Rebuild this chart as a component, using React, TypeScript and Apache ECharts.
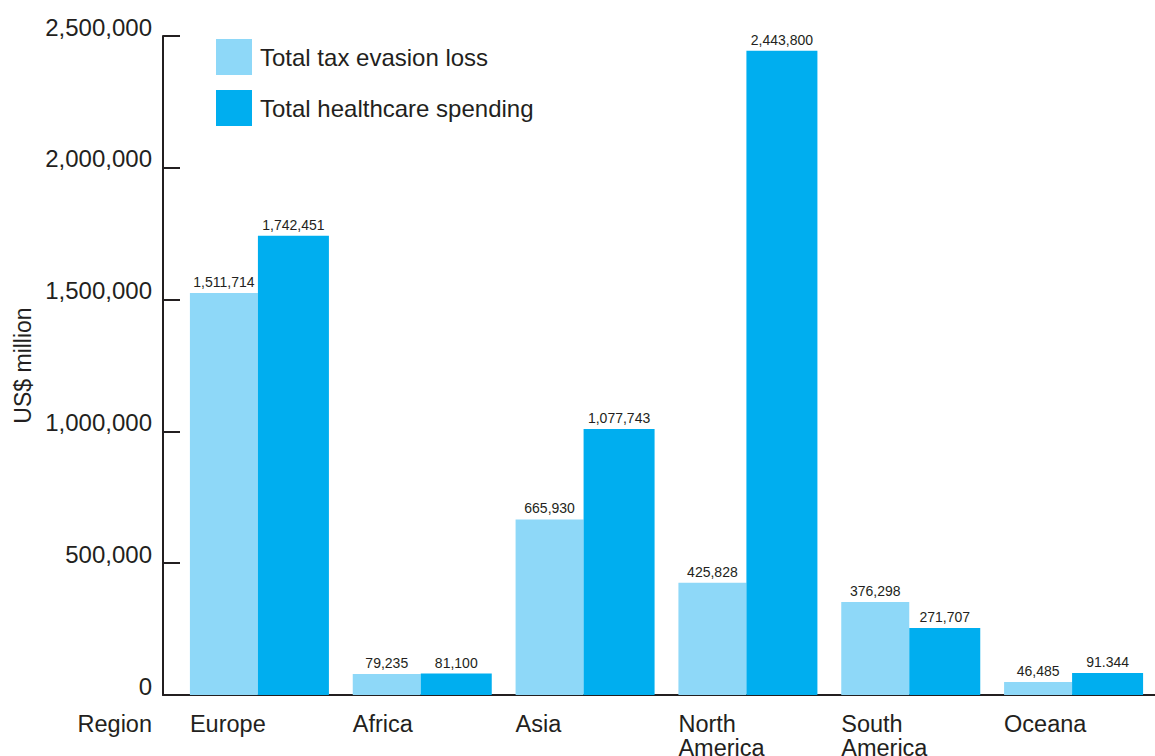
import React, { useEffect, useRef } from "react";
import * as echarts from "echarts";

const categories = ["Europe", "Africa", "Asia", "North\nAmerica", "South\nAmerica", "Oceana"];
const seriesNames = ["Total tax evasion loss", "Total healthcare spending"];
// bar heights as drawn in the picture
const taxEvasion = [1525000, 79235, 665930, 425828, 353000, 49000];
const healthcare = [1742451, 81100, 1009000, 2443800, 254000, 83500];
// printed labels
const taxLabels = ["1,511,714", "79,235", "665,930", "425,828", "376,298", "46,485"];
const healthLabels = ["1,742,451", "81,100", "1,077,743", "2,443,800", "271,707", "91.344"];
const yTicks = [0, 500000, 1000000, 1500000, 2000000, 2500000];

const FONT = "'Liberation Sans', Arial, Helvetica, sans-serif";
const TEXT = "#231f20";
const LIGHT = "#8ed8f8";
const DARK = "#00aeef";

export default function App() {
  const ref = useRef<HTMLDivElement>(null);
  useEffect(() => {
    if (!ref.current) return;
    const chart = echarts.init(ref.current, undefined, { renderer: "svg" });
    const fmt = (v: number) => v.toLocaleString("en-US");
    chart.setOption({
      animation: false,
      textStyle: { fontFamily: FONT, color: TEXT },
      legend: {
        orient: "vertical",
        left: 211,
        top: 34,
        itemWidth: 36,
        itemHeight: 36,
        itemGap: 15,
        icon: "rect",
        data: seriesNames,
        textStyle: { fontSize: 24, color: TEXT, fontFamily: FONT, padding: [0, 0, 0, 3] },
      },
      grid: [
        { left: 178, right: 0, top: 36, bottom: 61, containLabel: false, outerBoundsMode: "none" },
        { left: 163, right: 0, top: 36, bottom: 61, containLabel: false, outerBoundsMode: "none" },
      ],
      xAxis: [
        {
          type: "category",
          gridIndex: 0,
          data: categories,
          name: "Region",
          nameLocation: "start",
          nameGap: 26,
          nameTextStyle: { fontSize: 23.5, color: TEXT, fontFamily: FONT, verticalAlign: "top", padding: [17, 0, 0, 0] },
          axisLine: { show: false },
          axisTick: { show: false },
          axisLabel: {
            interval: 0,
            margin: 17,
            formatter: (v: string) => v.split("\n").map((s) => `{a|${s}}`).join("\n"),
            rich: {
              a: { width: 139, align: "left", fontSize: 23.5, lineHeight: 24, color: TEXT, fontFamily: FONT },
            },
          },
        },
        {
          type: "value",
          gridIndex: 1,
          min: 0,
          max: 1,
          axisLine: { show: true, onZero: false, lineStyle: { color: TEXT, width: 2 } },
          axisTick: { show: false },
          axisLabel: { show: false },
          splitLine: { show: false },
        },
      ],
      yAxis: [
        {
          type: "value",
          gridIndex: 0,
          min: 0,
          max: 2500000,
          interval: 500000,
          offset: 15,
          name: "US$ million",
          nameLocation: "middle",
          nameGap: 125,
          nameTextStyle: { fontSize: 23, color: TEXT, fontFamily: FONT },
          axisLine: { show: true, lineStyle: { color: TEXT, width: 2 } },
          axisTick: { show: true, inside: true, length: 17, lineStyle: { color: TEXT, width: 2 } },
          splitLine: { show: false },
          axisLabel: {
            fontSize: 24,
            color: TEXT,
            fontFamily: FONT,
            margin: 11,
            verticalAlign: "bottom",
            lineHeight: 18,
            formatter: (v: number) => (yTicks.includes(v) ? fmt(v) : ""),
          },
        },
        { type: "value", gridIndex: 1, min: 0, max: 1, show: false },
      ],
      series: [
        {
          name: seriesNames[0],
          type: "bar",
          xAxisIndex: 0,
          yAxisIndex: 0,
          data: taxEvasion,
          barWidth: 68,
          barGap: "0%",
          itemStyle: { color: LIGHT },
          label: {
            show: true,
            position: "top",
            distance: 4,
            fontSize: 14,
            color: TEXT,
            fontFamily: FONT,
            formatter: (p: any) => taxLabels[p.dataIndex],
          },
        },
        {
          name: seriesNames[1],
          type: "bar",
          xAxisIndex: 0,
          yAxisIndex: 0,
          data: healthcare,
          barWidth: 71,
          barGap: "0%",
          itemStyle: { color: DARK },
          label: {
            show: true,
            position: "top",
            distance: 4,
            fontSize: 14,
            color: TEXT,
            fontFamily: FONT,
            formatter: (p: any) => healthLabels[p.dataIndex],
          },
        },
      ],
    });
    return () => chart.dispose();
  }, []);
  return (
    <div
      ref={ref}
      style={{ position: "absolute", left: 0, top: 0, width: 1155, height: 756, background: "#fff" }}
    />
  );
}
